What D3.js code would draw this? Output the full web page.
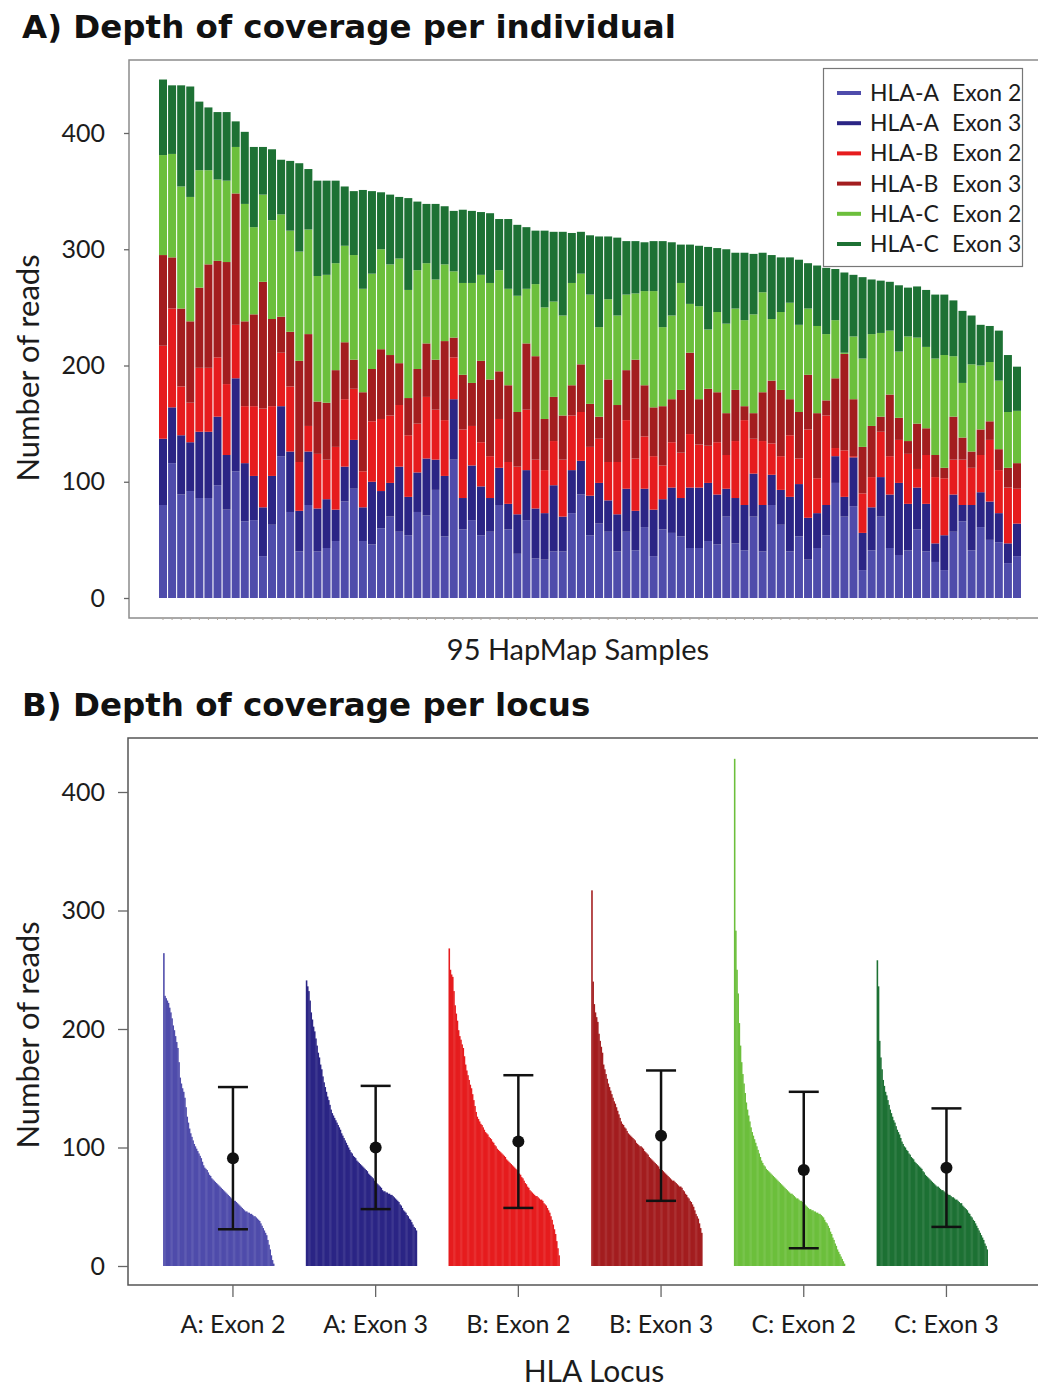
<!DOCTYPE html>
<html>
<head>
<meta charset="utf-8">
<title>Depth of coverage</title>
<script src="https://cdn.jsdelivr.net/npm/d3@7"></script>
<style>
  body { margin: 0; background: #fff; overflow: hidden; }
  svg { display: block; font-family: Lato, "Open Sans", sans-serif; }
  .title { font-family: "DejaVu Sans", sans-serif; font-weight: bold; }
</style>
</head>
<body>
<svg id="chart" width="1038" height="1388"></svg>
<script>
// series, shared by both panels
const seriesNames = ['HLA-A Exon 2', 'HLA-A Exon 3', 'HLA-B Exon 2', 'HLA-B Exon 3', 'HLA-C Exon 2', 'HLA-C Exon 3'];
const seriesKeys = ['a2', 'a3', 'b2', 'b3', 'c2', 'c3'];
const seriesColors = ['#4f4cab', '#2b2585', '#e61c1e', '#a31d1f', '#6cbf3c', '#1d7134'];

// Panel A: reads per sample (95 HapMap samples, plotted order)
const hlaA2 = [80, 116, 89, 92, 86, 86, 97, 76, 109, 66, 67, 36, 63, 122, 74, 40, 80, 40, 43, 49,
  83, 94, 49, 46, 60, 70, 57, 54, 74, 71, 93, 53, 119, 59, 67, 54, 57, 80, 59, 38,
  67, 34, 33, 40, 40, 73, 89, 54, 64, 57, 40, 57, 41, 61, 36, 59, 56, 53, 43, 43,
  49, 46, 70, 47, 41, 70, 40, 80, 63, 40, 53, 33, 43, 54, 99, 70, 79, 24, 41, 70,
  43, 37, 41, 59, 40, 31, 24, 57, 66, 41, 61, 50, 48, 30, 36];
const hlaA3 = [57, 48, 51, 42, 57, 57, 59, 47, 80, 50, 38, 42, 42, 43, 52, 35, 46, 37, 42, 27,
  30, 42, 29, 54, 32, 29, 56, 33, 34, 49, 26, 52, 52, 27, 47, 42, 29, 32, 22, 34,
  43, 43, 40, 57, 30, 37, 29, 34, 35, 27, 32, 37, 34, 33, 40, 26, 39, 33, 52, 52,
  50, 43, 24, 39, 39, 37, 40, 26, 30, 47, 45, 36, 30, 26, 23, 17, 42, 32, 37, 34,
  46, 62, 40, 36, 41, 16, 30, 32, 14, 39, 30, 33, 25, 17, 28];
const hlaB2 = [80, 85, 42, 34, 55, 55, 51, 61, 46, 49, 60, 85, 60, 46, 56, 42, 22, 47, 34, 54,
  58, 44, 31, 52, 62, 58, 53, 53, 42, 53, 43, 48, 36, 59, 34, 38, 36, 42, 36, 41,
  52, 42, 37, 38, 49, 47, 42, 42, 38, 33, 45, 59, 45, 45, 46, 29, 39, 39, 46, 37,
  32, 45, 29, 49, 73, 30, 55, 27, 29, 53, 22, 76, 30, 77, 7, 40, 1, 34, 26, 39,
  33, 37, 43, 16, 42, 57, 49, 30, 39, 32, 32, 53, 37, 48, 30];
const hlaB3 = [78, 44, 67, 70, 69, 89, 83, 105, 113, 73, 79, 109, 75, 31, 47, 87, 79, 45, 49, 66,
  49, 25, 68, 45, 60, 52, 36, 32, 47, 46, 43, 68, 17, 47, 37, 70, 66, 41, 66, 47,
  57, 89, 44, 38, 38, 26, 41, 37, 19, 71, 49, 43, 85, 44, 42, 51, 37, 54, 70, 39,
  49, 43, 36, 44, 12, 22, 42, 54, 57, 31, 40, 47, 56, 13, 60, 83, 49, 40, 44, 13,
  53, 19, 11, 39, 23, 19, 9, 37, 19, 14, 22, 16, 18, 17, 22];
const hlaC2 = [86, 89, 105, 107, 101, 81, 70, 70, 40, 101, 75, 75, 85, 88, 87, 94, 90, 108, 110, 92,
  83, 90, 89, 82, 86, 78, 90, 93, 85, 69, 69, 66, 57, 79, 86, 74, 83, 87, 83, 100,
  47, 62, 96, 82, 86, 88, 78, 94, 77, 69, 77, 65, 57, 81, 100, 68, 72, 92, 42, 80,
  51, 69, 77, 70, 74, 85, 86, 53, 67, 83, 75, 57, 75, 57, 50, 1, 54, 76, 79, 72,
  55, 57, 90, 74, 70, 83, 97, 52, 47, 75, 55, 51, 59, 48, 45];
const hlaC3 = [65, 59, 87, 95, 59, 54, 58, 59, 22, 62, 69, 41, 61, 47, 60, 76, 52, 82, 81, 71,
  51, 55, 85, 71, 49, 60, 53, 79, 59, 51, 65, 50, 52, 63, 62, 54, 60, 44, 60, 61,
  53, 46, 66, 60, 72, 43, 36, 51, 78, 54, 67, 46, 45, 42, 43, 74, 63, 33, 51, 52,
  71, 55, 64, 48, 58, 52, 34, 55, 47, 39, 56, 39, 52, 57, 44, 69, 53, 70, 47, 45,
  42, 57, 42, 44, 49, 55, 52, 48, 62, 42, 35, 31, 43, 49, 38];
const yTicks = [0, 100, 200, 300, 400];

// Panel B: reads per locus, samples sorted from highest to lowest
const loci = ['A: Exon 2', 'A: Exon 3', 'B: Exon 2', 'B: Exon 3', 'C: Exon 2', 'C: Exon 3'];
const sortedA2 = [264, 228, 226, 224, 222, 218, 214, 209, 203, 199, 194, 189, 184,
  172, 159, 154, 150, 147, 142, 134, 126, 121, 116, 112, 109, 106, 103, 101, 99, 97, 95, 93, 91, 88, 85,
  83, 82, 81, 79, 77, 76, 74, 73, 72, 71, 70, 69, 68, 67, 66, 65, 64, 63, 62, 61,
  60, 59, 58, 57, 56, 55, 55, 54, 53, 52, 51, 50, 49, 48, 47, 46, 46, 45, 45, 44,
  44, 43, 42, 42, 41, 40, 39, 38, 36, 34, 32, 30, 28, 26, 22, 18, 14, 9, 5, 2];
const sortedA3 = [241, 236, 232, 224, 214, 208, 202, 198, 192, 186, 180, 176, 170, 166, 160, 155, 151, 147, 143, 140,
  136, 132, 129, 127, 125, 123, 121, 119, 117, 115, 112, 110, 108, 106, 104, 102, 100, 98, 96, 95,
  93, 92, 91, 89, 88, 87, 86, 85, 84, 83, 82, 81, 80, 78, 77, 76, 75, 74, 72, 71,
  70, 69, 68, 67, 66, 64, 63, 63, 62, 62, 61, 61, 60, 60, 59, 58, 57, 56, 55, 54,
  52, 51, 49, 47, 46, 45, 43, 42, 40, 39, 37, 35, 33, 32, 30];
const sortedB2 = [268, 250, 246, 244, 232, 220, 213, 207, 199, 194, 191, 187, 184, 177, 170, 165, 161, 157, 153, 150,
  145, 140, 135, 130, 126, 124, 122, 120, 119, 117, 115, 113, 112, 111, 109, 108, 107, 105, 104, 102,
  101, 99, 98, 97, 96, 95, 94, 93, 92, 90, 89, 88, 87, 86, 85, 84, 83, 82, 81, 79,
  78, 77, 75, 74, 72, 70, 69, 67, 66, 64, 63, 62, 61, 60, 59, 59, 58, 57, 56, 56,
  55, 53, 52, 51, 49, 47, 45, 42, 39, 35, 31, 27, 21, 15, 9];
const sortedB3 = [317, 240, 221, 214, 210, 206, 196, 190, 185, 180, 170, 166, 162, 158, 154, 151, 148, 145, 142, 139,
  137, 134, 131, 128, 125, 122, 120, 119, 117, 116, 114, 112, 111, 110, 109, 108, 107, 106, 104, 103,
  102, 101, 101, 100, 99, 97, 96, 95, 94, 92, 91, 90, 89, 88, 87, 86, 85, 84, 82, 81,
  81, 80, 79, 78, 77, 76, 75, 74, 73, 72, 72, 71, 70, 69, 68, 67, 67, 66, 64, 63,
  61, 60, 58, 57, 55, 54, 52, 50, 47, 44, 42, 40, 36, 32, 28];
const sortedC2 = [428, 283, 250, 230, 205, 186, 172, 162, 154, 146, 138, 132, 127, 122, 117, 113, 110, 107, 104, 101,
  98, 95, 92, 89, 87, 85, 84, 82, 81, 80, 79, 78, 77, 76, 75, 74, 73, 72, 71, 70,
  69, 68, 67, 66, 65, 64, 63, 62, 61, 61, 60, 59, 58, 57, 57, 56, 55, 55, 54, 53,
  52, 51, 50, 49, 48, 48, 47, 47, 46, 46, 45, 45, 44, 44, 43, 42, 41, 39, 37, 36,
  34, 32, 29, 27, 24, 22, 19, 17, 14, 12, 10, 8, 6, 4, 2];
const sortedC3 = [258, 236, 190, 176, 166, 157, 152, 147, 144, 140, 136, 132, 129, 126, 123, 121, 118, 115, 113, 111,
  108, 105, 103, 101, 100, 98, 97, 95, 94, 92, 91, 90, 88, 87, 86, 85, 84, 83, 82, 80,
  79, 77, 76, 75, 74, 73, 72, 71, 70, 69, 68, 67, 67, 66, 65, 64, 64, 63, 62, 61,
  61, 60, 60, 59, 58, 58, 57, 56, 56, 55, 54, 53, 53, 51, 50, 49, 48, 47, 45, 44,
  42, 41, 39, 38, 36, 34, 32, 30, 28, 26, 24, 22, 19, 17, 14];
const locusMean = [91, 100, 105, 110, 81, 83];
const locusSd = [60, 52, 56, 55, 66, 50];

const svg = d3.select('#chart');
const textColor = '#1c1c1c';
const frameColor = '#8c8c8c';

function styleAxis(g, size) {
    g.attr('font-family', null).attr('font-size', size);
    g.select('.domain').remove();
    g.selectAll('line').attr('stroke', '#666').attr('stroke-width', 1.3);
    g.selectAll('text').attr('fill', textColor);
}

// ---------- A) per individual ----------
svg.append('text')
    .attr('class', 'title')
    .attr('x', 22).attr('y', 38)
    .attr('font-size', 32.5).attr('fill', '#111')
    .text('A) Depth of coverage per individual');

const samples = hlaA2.map((d, i) => i + 1);
const rowsA = samples.map((s, i) => ({
    sample: s, a2: hlaA2[i], a3: hlaA3[i], b2: hlaB2[i], b3: hlaB3[i], c2: hlaC2[i], c3: hlaC3[i]
}));
const stackA = d3.stack().keys(seriesKeys)(rowsA);

const xA = d3.scaleBand().domain(samples).range([159, 1021]).paddingInner(0.12);
const yA = d3.scaleLinear().domain([0, 400]).range([598, 133]);

svg.append('rect')
    .attr('x', 129).attr('y', 60).attr('width', 1000).attr('height', 558)
    .attr('fill', 'none').attr('stroke', frameColor).attr('stroke-width', 1.5);

svg.append('g')
    .selectAll('g')
    .data(stackA)
    .join('g')
    .attr('fill', (d, i) => seriesColors[i])
    .selectAll('rect')
    .data(d => d)
    .join('rect')
    .attr('x', d => xA(d.data.sample))
    .attr('width', xA.bandwidth())
    .attr('y', d => yA(d[1]))
    .attr('height', d => yA(d[0]) - yA(d[1]));

svg.append('g')
    .attr('transform', 'translate(129,0)')
    .call(d3.axisLeft(yA).tickValues(yTicks).tickSize(5).tickPadding(19))
    .call(g => styleAxis(g, 25));

// tiny sample ticks along the bottom
svg.append('g')
    .attr('transform', 'translate(0,617)')
    .call(d3.axisBottom(xA).tickSize(3).tickFormat(''))
    .call(g => g.select('.domain').remove())
    .call(g => g.selectAll('line').attr('stroke', '#b0a8a0'));

svg.append('text')
    .attr('x', 578).attr('y', 660)
    .attr('text-anchor', 'middle').attr('font-size', 29).attr('fill', textColor)
    .text('95 HapMap Samples');

svg.append('text')
    .attr('transform', 'translate(39,368) rotate(-90)')
    .attr('text-anchor', 'middle').attr('font-size', 31).attr('fill', textColor)
    .text('Number of reads');

// legend
const legend = svg.append('g').attr('transform', 'translate(823,68)');
legend.append('rect')
    .attr('x', 0.5).attr('y', 0.5).attr('width', 199).attr('height', 198)
    .attr('fill', '#fff').attr('stroke', '#777').attr('stroke-width', 1.2);
const legendRows = legend.selectAll('g')
    .data(seriesNames)
    .join('g')
    .attr('transform', (d, i) => `translate(0,${25 + i * 30.2})`);
legendRows.append('line')
    .attr('x1', 14).attr('x2', 38)
    .attr('stroke', (d, i) => seriesColors[i]).attr('stroke-width', 4);
const legendText = legendRows.append('text')
    .attr('dy', '0.35em').attr('font-size', 23).attr('fill', textColor);
legendText.append('tspan').attr('x', 47).text(d => d.split(' ')[0]);
legendText.append('tspan').attr('x', 129).text(d => d.split(' ').slice(1).join(' '));

// ---------- B) per locus ----------
svg.append('text')
    .attr('class', 'title')
    .attr('x', 22).attr('y', 716)
    .attr('font-size', 32.5).attr('fill', '#111')
    .text('B) Depth of coverage per locus');

const sortedByLocus = [sortedA2, sortedA3, sortedB2, sortedB3, sortedC2, sortedC3];
const xB = d3.scaleBand().domain(loci).range([161.6, 1017.8]).padding(0);
const yB = d3.scaleLinear().domain([0, 400]).range([1266, 792]);
const xRank = d3.scaleBand().domain(d3.range(sortedA2.length)).range([0, 111]);

svg.append('rect')
    .attr('x', 128).attr('y', 738).attr('width', 1000).attr('height', 547)
    .attr('fill', 'none').attr('stroke', '#555').attr('stroke-width', 1.5);

const groups = svg.append('g')
    .selectAll('g')
    .data(loci)
    .join('g')
    .attr('transform', d => `translate(${xB(d) + 1.5},0)`);

groups.selectAll('rect')
    .data((d, i) => sortedByLocus[i].map(v => ({ v, c: seriesColors[i] })))
    .join('rect')
    .attr('x', (d, k) => xRank(k))
    .attr('width', xRank.bandwidth() + 0.4)
    .attr('y', d => yB(d.v))
    .attr('height', d => yB(0) - yB(d.v))
    .attr('fill', d => d.c);

// mean +/- sd
const errBars = svg.append('g')
    .selectAll('g')
    .data(loci)
    .join('g')
    .attr('transform', d => `translate(${xB(d) + xB.bandwidth() / 2},0)`)
    .attr('stroke', '#111').attr('stroke-width', 2.5);
errBars.append('line')
    .attr('y1', (d, i) => yB(locusMean[i] - locusSd[i]))
    .attr('y2', (d, i) => yB(locusMean[i] + locusSd[i]));
errBars.append('line')
    .attr('x1', -15).attr('x2', 15)
    .attr('y1', (d, i) => yB(locusMean[i] + locusSd[i]))
    .attr('y2', (d, i) => yB(locusMean[i] + locusSd[i]));
errBars.append('line')
    .attr('x1', -15).attr('x2', 15)
    .attr('y1', (d, i) => yB(locusMean[i] - locusSd[i]))
    .attr('y2', (d, i) => yB(locusMean[i] - locusSd[i]));
errBars.append('circle')
    .attr('cy', (d, i) => yB(locusMean[i]))
    .attr('r', 6).attr('fill', '#111').attr('stroke', 'none');

svg.append('g')
    .attr('transform', 'translate(128,0)')
    .call(d3.axisLeft(yB).tickValues(yTicks).tickSize(10).tickPadding(13))
    .call(g => styleAxis(g, 25));

svg.append('g')
    .attr('transform', 'translate(0,1285)')
    .call(d3.axisBottom(xB).tickSize(12).tickSizeOuter(0).tickPadding(18))
    .call(g => styleAxis(g, 25));

svg.append('text')
    .attr('x', 594).attr('y', 1382)
    .attr('text-anchor', 'middle').attr('font-size', 30).attr('fill', textColor)
    .text('HLA Locus');

svg.append('text')
    .attr('transform', 'translate(39,1035) rotate(-90)')
    .attr('text-anchor', 'middle').attr('font-size', 31).attr('fill', textColor)
    .text('Number of reads');
</script>
</body>
</html>
